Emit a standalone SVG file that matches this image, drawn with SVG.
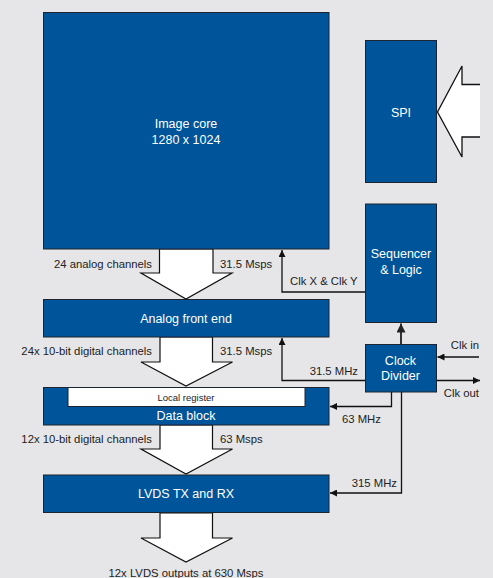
<svg xmlns="http://www.w3.org/2000/svg" width="493" height="578" viewBox="0 0 493 578">
<defs>
<style>
.box{fill:#00559A;stroke:#1b2430;stroke-width:1}
.blk{fill:#fff;stroke:#111;stroke-width:1.2;stroke-linejoin:miter}
.wire{fill:none;stroke:#111;stroke-width:1.3}
.bt{font-family:"Liberation Sans",Arial,sans-serif;font-size:12.5px;fill:#fff;text-anchor:middle}
.lb{font-family:"Liberation Sans",Arial,sans-serif;font-size:11.3px;fill:#222}
.e{text-anchor:end}
</style>
<marker id="ah" viewBox="0 0 10 10" refX="10" refY="5" markerWidth="7" markerHeight="7" markerUnits="userSpaceOnUse" orient="auto">
<path d="M0,0 L10,5 L0,10 z" fill="#111"/>
</marker>
<marker id="ah2" viewBox="0 0 10 10" refX="10" refY="5" markerWidth="9" markerHeight="9" markerUnits="userSpaceOnUse" orient="auto">
<path d="M0,0 L10,5 L0,10 z" fill="#222"/>
</marker>
</defs>
<rect width="493" height="578" fill="#E6E6E8"/>

<g id="connectors">
<!-- block arrows -->
<polygon class="blk" points="159.5,249 159.5,273 141,273 186,299 232,273 213,273 213,249"/>
<polygon class="blk" points="160,337 160,362 141,362 186,386 232.5,362 212.5,362 212.5,337"/>
<polygon class="blk" points="160,425 160,449 141,449 186,474 232.5,449 212.5,449 212.5,425"/>
<polygon class="blk" points="160,513 160,538 141,538 186,562 232.5,538 212.5,538 212.5,513"/>
<!-- SPI input arrow -->
<polygon points="437.5,112 462,66 462,84.5 480,84.5 480,137 462,137 462,157 437.5,112" fill="#fff"/>
<path class="wire" d="M480,84.5 L462,84.5 L462,66 L437.5,112 L462,157 L462,137 L480,137" stroke-width="1.2"/>
<!-- Clk X & Clk Y -->
<path class="wire" d="M365,292 L282,292 L282,250" marker-end="url(#ah)"/>
<!-- Clock divider to sequencer -->
<path d="M401,344 L401,323.5" fill="none" stroke="#333" stroke-width="2" marker-end="url(#ah2)"/>
<!-- 31.5 MHz -->
<path class="wire" d="M365,380.5 L282,380.5 L282,338" marker-end="url(#ah)"/>
<!-- Clk in -->
<path class="wire" d="M479,357 L437.5,357" marker-end="url(#ah)"/>
<!-- Clk out -->
<path class="wire" d="M437,380.5 L480,380.5" marker-end="url(#ah)"/>
<!-- 63 MHz -->
<path class="wire" d="M391.5,392 L391.5,406.5 L330,406.5" marker-end="url(#ah)"/>
<!-- 315 MHz -->
<path class="wire" d="M401.5,392 L401.5,493 L330,493" marker-end="url(#ah)"/>
</g>

<g id="image-core">
<rect class="box" x="43.5" y="12.5" width="285.5" height="236.5"/>
<text class="bt" x="186" y="128">Image core</text>
<text class="bt" x="186" y="144">1280 x 1024</text>
</g>
<g id="spi">
<rect class="box" x="365.5" y="40.5" width="71" height="142"/>
<text class="bt" x="401" y="117">SPI</text>
</g>
<g id="sequencer">
<rect class="box" x="365.5" y="204" width="71" height="118.5"/>
<text class="bt" x="401" y="258">Sequencer</text>
<text class="bt" x="401" y="274">&amp; Logic</text>
</g>
<g id="afe">
<rect class="box" x="43.5" y="299.5" width="285.5" height="37.5"/>
<text class="bt" x="186" y="323">Analog front end</text>
</g>
<g id="clock-divider">
<rect class="box" x="365.5" y="344.5" width="71" height="47.5"/>
<text class="bt" x="400.5" y="364.5">Clock</text>
<text class="bt" x="400.5" y="379.5">Divider</text>
</g>
<g id="data-block">
<rect class="box" x="43.5" y="387.5" width="285.5" height="37.5"/>
<rect x="68" y="387.5" width="237" height="19" fill="#fff" stroke="#1b2430" stroke-width="1"/>
<text x="186" y="401" font-family="'Liberation Sans',Arial,sans-serif" font-size="9.5px" fill="#222" text-anchor="middle">Local register</text>
<text class="bt" x="186" y="420">Data block</text>
</g>
<g id="lvds">
<rect class="box" x="43.5" y="475" width="285.5" height="37.5"/>
<text class="bt" x="186" y="497.5">LVDS TX and RX</text>
</g>

<g id="labels">
<text class="lb e" x="152" y="267.5">24 analog channels</text>
<text class="lb" x="220" y="267.5">31.5 Msps</text>
<text class="lb" x="290" y="284.5">Clk X &amp; Clk Y</text>
<text class="lb e" x="152" y="355">24x 10-bit digital channels</text>
<text class="lb" x="220" y="355">31.5 Msps</text>
<text class="lb e" x="358" y="374.5">31.5 MHz</text>
<text class="lb e" x="479" y="348.5">Clk in</text>
<text class="lb e" x="479" y="397">Clk out</text>
<text class="lb" x="342" y="422.5">63 MHz</text>
<text class="lb e" x="152" y="442.5">12x 10-bit digital channels</text>
<text class="lb" x="220" y="442.5">63 Msps</text>
<text class="lb e" x="397" y="487">315 MHz</text>
<text class="lb" x="186" y="576.5" text-anchor="middle" font-size="12.2px">12x LVDS outputs at 630 Msps</text>
</g>
</svg>
